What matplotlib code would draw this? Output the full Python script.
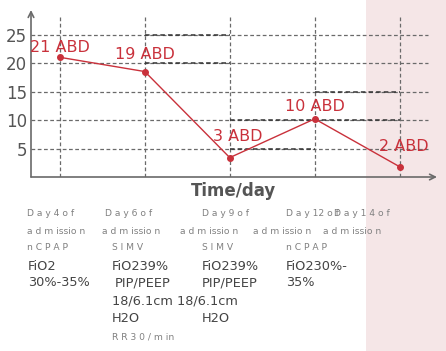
import matplotlib.pyplot as plt

# chart data
days = [1, 2, 3, 4, 5]
values = [21, 18.5, 3.4, 10.2, 1.8]
point_labels = ["21 ABD", "19 ABD", "3 ABD", "10 ABD", "2 ABD"]
label_y = [22.7, 21.5, 7.1, 12.4, 5.4]
label_dx = [0.0, 0.0, 0.1, 0.0, 0.05]
yticks = [5, 10, 15, 20, 25]

# annotation text under the x axis
day_row = ["D a y 4 o f", "D a y 6 o f", "D a y 9 o f", "D a y 12 o f", "D a y 1 4 o f"]
day_x = [27, 105, 202, 286, 334]
adm_x = [27, 102, 180, 253, 323]
mode_row = ["n C P A P", "S I M V", "S I M V", "n C P A P"]
mode_x = [27, 112, 202, 286]

W, H = 446, 351
RED = "#c9313b"
GRID = "#6a6a6a"

fig = plt.figure(figsize=(W / 100, H / 100), dpi=100)
fig.patch.set_facecolor("white")

# shaded last-day band spanning whole figure height
fig.patches.append(plt.Rectangle((366 / W, 0), (W - 366) / W, 1, transform=fig.transFigure,
                                 facecolor="#f5e6e7", edgecolor="none", zorder=-5))

ax = fig.add_axes([31 / W, 1 - 177 / H, (437 - 31) / W, (177 - 10) / H])
ax.set_zorder(2)
ax.patch.set_visible(False)
ax.set_xlim(0.66, 5.44)
ax.set_ylim(0, 29.3)

for s in ax.spines.values():
    s.set_visible(False)

# axes with arrows
ax.annotate("", xy=(1, 0), xytext=(0, 0), xycoords="axes fraction",
            arrowprops=dict(arrowstyle="->", color=GRID, lw=1.2, shrinkA=0, shrinkB=0))
ax.annotate("", xy=(0, 1), xytext=(0, 0), xycoords="axes fraction",
            arrowprops=dict(arrowstyle="->", color=GRID, lw=1.2, shrinkA=0, shrinkB=0))

# dashed grid
for yv in yticks:
    ax.plot([0.66, 5.33], [yv, yv], ls=(0, (3, 2)), color=GRID, lw=0.9, zorder=1)
for xv in days:
    ax.plot([xv, xv], [0, 28.5], ls=(0, (3, 2)), color=GRID, lw=0.9, zorder=1)

# darker box segments
for (x0, x1, yv) in [(2, 3, 25), (2, 3, 20), (3, 4, 5), (3, 5, 10), (4, 5, 15)]:
    ax.plot([x0, x1], [yv, yv], ls=(0, (3, 2)), color="#333333", lw=1.1, zorder=1)

ax.plot(days, values, color=RED, lw=1, marker="o", ms=4, zorder=3)
for d, lab, ly, dx in zip(days, point_labels, label_y, label_dx):
    ax.text(d + dx, ly, lab, color=RED, fontsize=11.5, ha="center", va="center", zorder=4)

ax.set_xticks([])
ax.set_yticks(yticks)
ax.set_yticklabels([str(t) for t in yticks], fontsize=12, color="#555555")
ax.tick_params(axis="y", length=0, pad=3)

fig.text(234 / W, 1 - 191 / H, "Time/day", fontsize=12, fontweight="bold",
         color="#555555", ha="center", va="center")


def put(x, y, s, small=False):
    if small:
        fig.text(x / W, 1 - y / H, s, fontsize=6.6, color="#808080", ha="left", va="center",
                 family=["Liberation Sans Narrow", "DejaVu Sans"])
    else:
        fig.text(x / W, 1 - y / H, s, fontsize=9.3, color="#444444", ha="left", va="center")


for x, s in zip(day_x, day_row):
    put(x, 214, s, small=True)
for x in adm_x:
    put(x, 232, "a d m issio n", small=True)
for x, s in zip(mode_x, mode_row):
    put(x, 247, s, small=True)

put(28, 267, "FiO2")
put(28, 283, "30%-35%")
put(112, 267, "FiO239%")
put(115, 283, "PIP/PEEP")
put(112, 301, "18/6.1cm 18/6.1cm")
put(112, 318, "H2O")
put(112, 337, "R R 3 0 / m in", small=True)
put(202, 267, "FiO239%")
put(202, 283, "PIP/PEEP")
put(202, 318, "H2O")
put(286, 267, "FiO230%-")
put(286, 283, "35%")

fig.savefig("out.png", dpi=100)
